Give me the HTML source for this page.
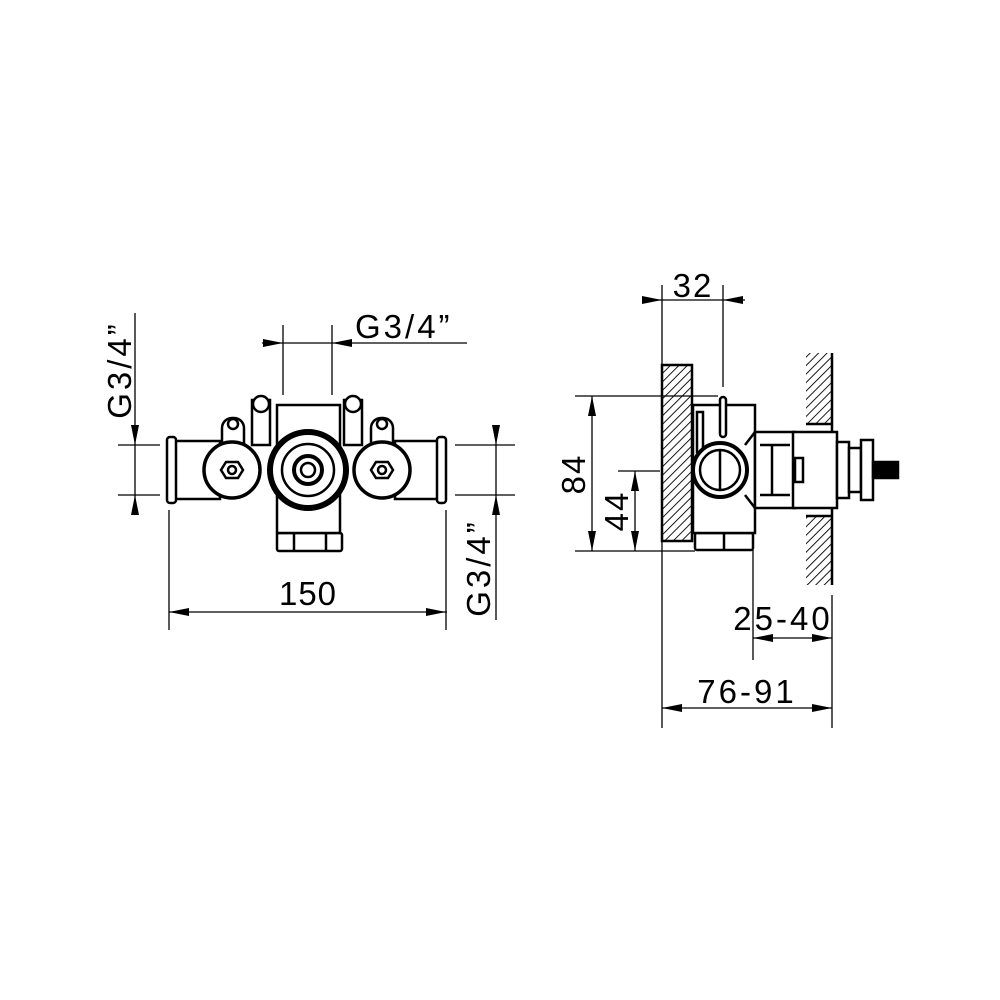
<!DOCTYPE html>
<html><head><meta charset="utf-8"><style>html,body{margin:0;padding:0;background:#fff}svg{display:block}</style></head>
<body>
<svg width="1000" height="1000" viewBox="0 0 1000 1000" xmlns="http://www.w3.org/2000/svg">
<defs>
<pattern id="h" patternUnits="userSpaceOnUse" width="6" height="6" patternTransform="rotate(45)">
<line x1="0" y1="0" x2="0" y2="6" stroke="#000" stroke-width="1.8"/>
</pattern>
</defs>
<g font-family="Liberation Sans, sans-serif" font-size="33" fill="#000">
<!-- LEFT VIEW dims -->
<g stroke="#000" stroke-width="1.3" fill="none">
<line x1="262" y1="343" x2="467" y2="343"/>
<line x1="283" y1="325" x2="283" y2="395"/>
<line x1="332" y1="325" x2="332" y2="395"/>
<line x1="135" y1="313" x2="135" y2="515"/>
<line x1="118" y1="445" x2="160" y2="445"/>
<line x1="118" y1="495" x2="160" y2="495"/>
<line x1="496" y1="425" x2="496" y2="620"/>
<line x1="455" y1="445" x2="515" y2="445"/>
<line x1="455" y1="495" x2="515" y2="495"/>
<line x1="169" y1="612" x2="447" y2="612"/>
<line x1="169" y1="510" x2="169" y2="630"/>
<line x1="446" y1="510" x2="446" y2="630"/>
</g>
<g stroke="none">
<polygon points="283,343 263,339 263,347"/>
<polygon points="332,343 352,339 352,347"/>
<polygon points="135,445 131,425 139,425"/>
<polygon points="135,495 131,515 139,515"/>
<polygon points="496,445 492,425 500,425"/>
<polygon points="496,495 492,515 500,515"/>
<polygon points="169,612 189,608 189,616"/>
<polygon points="446,612 426,608 426,616"/>
</g>
<text x="355" y="338" letter-spacing="3">G3/4”</text>
<text x="308" y="605" text-anchor="middle" letter-spacing="1">150</text>
<text transform="translate(131,370) rotate(-90)" text-anchor="middle" letter-spacing="3">G3/4”</text>
<text transform="translate(490,568) rotate(-90)" text-anchor="middle" letter-spacing="3">G3/4”</text>

<!-- LEFT VIEW body -->
<g stroke="#000" stroke-width="2.5" fill="#fff">
<rect x="277" y="533" width="65" height="18" rx="2"/>
<rect x="277" y="405" width="63" height="128"/>
<rect x="252" y="400" width="18" height="45"/>
<rect x="344" y="400" width="18" height="45"/>
<circle cx="261" cy="404" r="8"/>
<circle cx="353" cy="404" r="8"/>
<rect x="222" y="418" width="22" height="35" rx="10"/>
<rect x="371" y="418" width="22" height="35" rx="10"/>
<circle cx="233" cy="424" r="5"/>
<circle cx="382" cy="424" r="5"/>
<rect x="170" y="441" width="50" height="58"/>
<rect x="395" y="441" width="50" height="58"/>
<rect x="167" y="437" width="9" height="66" rx="3"/>
<rect x="437" y="437" width="9" height="66" rx="3"/>
<circle cx="232" cy="470" r="28" stroke-width="3.5"/>
<circle cx="382" cy="470" r="28" stroke-width="3.5"/>
<circle cx="308" cy="470" r="38" stroke-width="6"/>
<circle cx="308" cy="470" r="26"/>
<circle cx="308" cy="470" r="14" stroke-width="4"/>
<circle cx="308" cy="470" r="7"/>
<polygon points="226,462 238,462 243,470 238,478 226,478 221,470"/>
<polygon points="376,462 388,462 393,470 388,478 376,478 371,470"/>
<circle cx="232" cy="470" r="4"/>
<circle cx="382" cy="470" r="4"/>
<line x1="294" y1="533" x2="294" y2="551"/>
<line x1="326" y1="533" x2="326" y2="551"/>
</g>

<!-- RIGHT VIEW dims -->
<g stroke="#000" stroke-width="1.3" fill="none">
<line x1="642" y1="300" x2="745" y2="300"/>
<line x1="662" y1="285" x2="662" y2="365"/>
<line x1="662" y1="540" x2="662" y2="728"/>
<line x1="723" y1="285" x2="723" y2="387"/>
<line x1="592" y1="396" x2="592" y2="551"/>
<line x1="575" y1="396" x2="718" y2="396"/>
<line x1="575" y1="551" x2="695" y2="551"/>
<line x1="635" y1="471" x2="635" y2="551"/>
<line x1="618" y1="471" x2="660" y2="471"/>
<line x1="753" y1="550" x2="753" y2="660"/>
<line x1="832" y1="595" x2="832" y2="728"/>
<line x1="753" y1="638" x2="832" y2="638"/>
<line x1="662" y1="708" x2="832" y2="708"/>
</g>
<g stroke="none">
<polygon points="662,300 642,296 642,304"/>
<polygon points="723,300 743,296 743,304"/>
<polygon points="592,396 588,416 596,416"/>
<polygon points="592,551 588,531 596,531"/>
<polygon points="635,471 631,491 639,491"/>
<polygon points="635,551 631,531 639,531"/>
<polygon points="753,638 773,634 773,642"/>
<polygon points="832,638 812,634 812,642"/>
<polygon points="662,708 682,704 682,712"/>
<polygon points="832,708 812,704 812,712"/>
</g>
<text x="693" y="297" text-anchor="middle" letter-spacing="2">32</text>
<text transform="translate(585,474) rotate(-90)" text-anchor="middle" letter-spacing="2">84</text>
<text transform="translate(628,511) rotate(-90)" text-anchor="middle" letter-spacing="2">44</text>
<text x="783" y="630" text-anchor="middle" letter-spacing="3">25-40</text>
<text x="747" y="703" text-anchor="middle" letter-spacing="3">76-91</text>

<!-- RIGHT VIEW walls -->
<rect x="662" y="365" width="30" height="176" fill="url(#h)" stroke="#000" stroke-width="2.5"/>
<rect x="806" y="353" width="26" height="71" fill="url(#h)" stroke="none"/>
<rect x="806" y="516" width="26" height="69" fill="url(#h)" stroke="none"/>
<g stroke="#000" stroke-width="2.5" fill="none">
<line x1="832" y1="353" x2="832" y2="585"/>
<line x1="806" y1="424" x2="832" y2="424"/>
<line x1="806" y1="516" x2="832" y2="516"/>
</g>

<!-- RIGHT VIEW body -->
<g stroke="#000" stroke-width="2.5" fill="#fff">
<rect x="695" y="533" width="58" height="17" rx="2"/>
<line x1="724" y1="533" x2="724" y2="550"/>
<rect x="693" y="405" width="62" height="128"/>
<rect x="755" y="432" width="40" height="76"/>
<line x1="760" y1="445" x2="790" y2="445"/>
<line x1="760" y1="495" x2="790" y2="495"/>
<line x1="772" y1="445" x2="772" y2="495"/>
<rect x="793" y="432" width="44" height="76"/>
<rect x="795" y="458" width="8" height="24"/>
<rect x="837" y="442" width="12" height="56"/>
<rect x="849" y="448" width="12" height="44"/>
<rect x="861" y="440" width="12" height="60"/>
<rect x="873" y="462" width="25" height="16" fill="#000"/>
<rect x="720" y="397" width="6" height="40" rx="3"/>
<rect x="697" y="412" width="6" height="40"/>
<circle cx="720" cy="470" r="27" stroke-width="4"/>
<circle cx="720" cy="470" r="20"/>
<line x1="720" y1="450" x2="720" y2="490"/>
<line x1="745" y1="445" x2="755" y2="432"/>
<line x1="745" y1="495" x2="755" y2="508"/>
</g>
</g>
</svg>
</body></html>
